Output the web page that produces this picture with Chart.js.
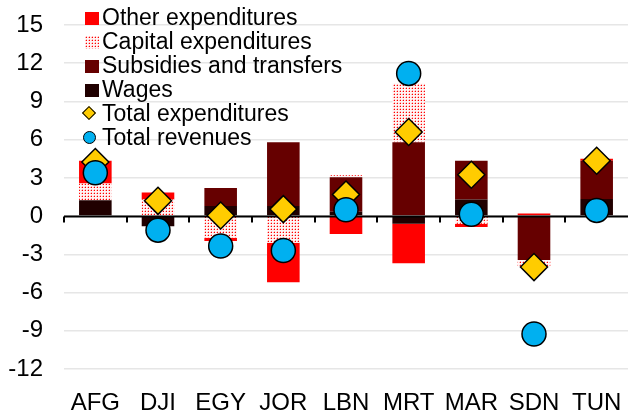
<!DOCTYPE html>
<html>
<head>
<meta charset="utf-8">
<script src="https://cdn.jsdelivr.net/npm/chart.js@4.4.1/dist/chart.umd.min.js"></script>
<style>
  html, body { margin: 0; padding: 0; background: #fff; }
  #wrap { position: relative; width: 643px; height: 414px; }
  #legend { position: absolute; left: 0; top: 5px; font-family: "Liberation Sans", Arial, sans-serif; font-size: 23px; color: #000; }
  .row { position: relative; height: 24px; line-height: 24px; white-space: nowrap; }
  .row .txt { position: absolute; left: 102px; top: 0; }
  .row .ico { position: absolute; }
</style>
</head>
<body>
<div id="wrap">
  <canvas id="chart" width="643" height="414"></canvas>
  <div id="legend"></div>
</div>
<script>
// values (% of GDP style units)
const categories = ['AFG', 'DJI', 'EGY', 'JOR', 'LBN', 'MRT', 'MAR', 'SDN', 'TUN'];
const wages      = [1.25, -0.8, 0.8, 0.8, 0.35, -0.6, 1.3, 0, 1.35];
const subsidies  = [0, 0, 1.4, 5.0, 2.7, 5.8, 3.05, -3.45, 3.0];
const capital    = [1.3, 1.3, -1.7, -2.1, 0.15, 4.6, -0.6, -0.5, 0];
const other      = [1.8, 0.55, -0.25, -3.1, -1.4, -3.1, -0.25, 0.2, 0.15];
const totalExp   = [4.25, 1.2, 0.05, 0.55, 1.7, 6.6, 3.25, -4.0, 4.35];
const totalRev   = [3.4, -1.1, -2.35, -2.7, 0.5, 11.2, 0.15, -9.25, 0.45];
const yTicks     = [-12, -9, -6, -3, 0, 3, 6, 9, 12, 15];

const FONT = '"Liberation Sans", Arial, sans-serif';

function dotTile(){
  const c = document.createElement('canvas');
  c.width = 3; c.height = 3;
  const g = c.getContext('2d');
  g.fillStyle = '#fff4f4'; g.fillRect(0, 0, 3, 3);
  g.fillStyle = '#ffb3b3'; g.fillRect(0, 1, 1, 1); g.fillRect(1, 0, 1, 1);
  g.fillStyle = '#ff0000'; g.fillRect(1, 1, 1, 1);
  return c;
}
const tile = dotTile();
const capitalFill = document.getElementById('chart').getContext('2d').createPattern(tile, 'repeat');

// zero line with category tick marks, drawn between bars and markers
const zeroLine = {
  id: 'zeroLine',
  beforeDatasetDraw(chart, args){
    if (args.index !== 4) return;
    const { ctx, chartArea } = chart;
    const y = Math.round(chart.scales.y.getPixelForValue(0)) + 0.5;
    const xs = chart.scales.x;
    ctx.save();
    ctx.strokeStyle = '#000';
    ctx.lineWidth = 2;
    ctx.beginPath();
    ctx.moveTo(chartArea.left, y);
    ctx.lineTo(chartArea.right, y);
    for (let i = 0; i < categories.length; i++){
      const x = Math.round(xs.getPixelForValue(i) - (xs.getPixelForValue(1) - xs.getPixelForValue(0)) / 2);
      ctx.moveTo(x, y);
      ctx.lineTo(x, y + 6);
    }
    ctx.stroke();
    ctx.restore();
  }
};

const barBase = { type: 'bar', stack: 'exp', order: 2, borderWidth: 0, barPercentage: 1, categoryPercentage: 0.52 };

new Chart(document.getElementById('chart'), {
  data: {
    labels: categories,
    datasets: [
      { ...barBase, label: 'Wages', data: wages, backgroundColor: '#200000' },
      { ...barBase, label: 'Subsidies and transfers', data: subsidies, backgroundColor: '#660000' },
      { ...barBase, label: 'Capital expenditures', data: capital, backgroundColor: capitalFill },
      { ...barBase, label: 'Other expenditures', data: other, backgroundColor: '#ff0000' },
      { type: 'line', label: 'Total expenditures', data: totalExp, stack: 'te', order: 1, showLine: false,
        pointStyle: 'rectRot', pointRadius: 13.5, pointBackgroundColor: '#ffcc00', pointBorderColor: '#000', pointBorderWidth: 1.5 },
      { type: 'line', label: 'Total revenues', data: totalRev, stack: 'tr', order: 0, showLine: false,
        pointStyle: 'circle', pointRadius: 12, pointBackgroundColor: '#00b0f0', pointBorderColor: '#000', pointBorderWidth: 1.5 }
    ]
  },
  options: {
    responsive: false,
    animation: false,
    events: [],
    layout: { padding: { top: 25, right: 0, left: 0, bottom: 0 } },
    plugins: { legend: { display: false }, tooltip: { enabled: false } },
    scales: {
      x: {
        stacked: true,
        grid: { display: false, drawTicks: false },
        border: { display: false },
        ticks: { color: '#000', padding: 20, font: { family: FONT, size: 24 } },
        afterFit(s){ s.height = 45; s.paddingLeft = 0; s.paddingRight = 0; }
      },
      y: {
        stacked: true,
        min: -12, max: 15,
        afterBuildTicks(s){ s.ticks = yTicks.map(v => ({ value: v })); },
        grid: { color: '#e6e6e6', lineWidth: 1.5, drawTicks: false },
        border: { display: false },
        ticks: { color: '#000', padding: 21, font: { family: FONT, size: 24 } },
        afterFit(s){ s.width = 64; s.paddingTop = 0; s.paddingBottom = 0; }
      }
    }
  },
  plugins: [zeroLine]
});

// legend, laid over the top-left of the plot
const legendItems = [
  { text: 'Other expenditures', kind: 'sq', color: '#ff0000' },
  { text: 'Capital expenditures', kind: 'pat' },
  { text: 'Subsidies and transfers', kind: 'sq', color: '#660000' },
  { text: 'Wages', kind: 'sq', color: '#200000' },
  { text: 'Total expenditures', kind: 'dia' },
  { text: 'Total revenues', kind: 'dot' }
];
const leg = document.getElementById('legend');
legendItems.forEach(it => {
  const row = document.createElement('div');
  row.className = 'row';
  const ico = document.createElement('div');
  ico.className = 'ico';
  if (it.kind === 'sq' || it.kind === 'pat'){
    Object.assign(ico.style, { left: '85px', top: '7px', width: '14px', height: '13px' });
    if (it.kind === 'sq') ico.style.background = it.color;
    else ico.style.backgroundImage = 'url(' + tile.toDataURL() + ')';
  } else if (it.kind === 'dia'){
    Object.assign(ico.style, { left: '83.7px', top: '6.5px', width: '8px', height: '8px',
      background: '#ffcc00', border: '1.5px solid #000', transform: 'rotate(45deg)' });
  } else {
    Object.assign(ico.style, { left: '83px', top: '6px', width: '13px', height: '13px', boxSizing: 'border-box',
      borderRadius: '50%', background: '#00b0f0', border: '1.5px solid #000' });
  }
  const txt = document.createElement('span');
  txt.className = 'txt';
  txt.textContent = it.text;
  row.appendChild(ico);
  row.appendChild(txt);
  leg.appendChild(row);
});
</script>
</body>
</html>
